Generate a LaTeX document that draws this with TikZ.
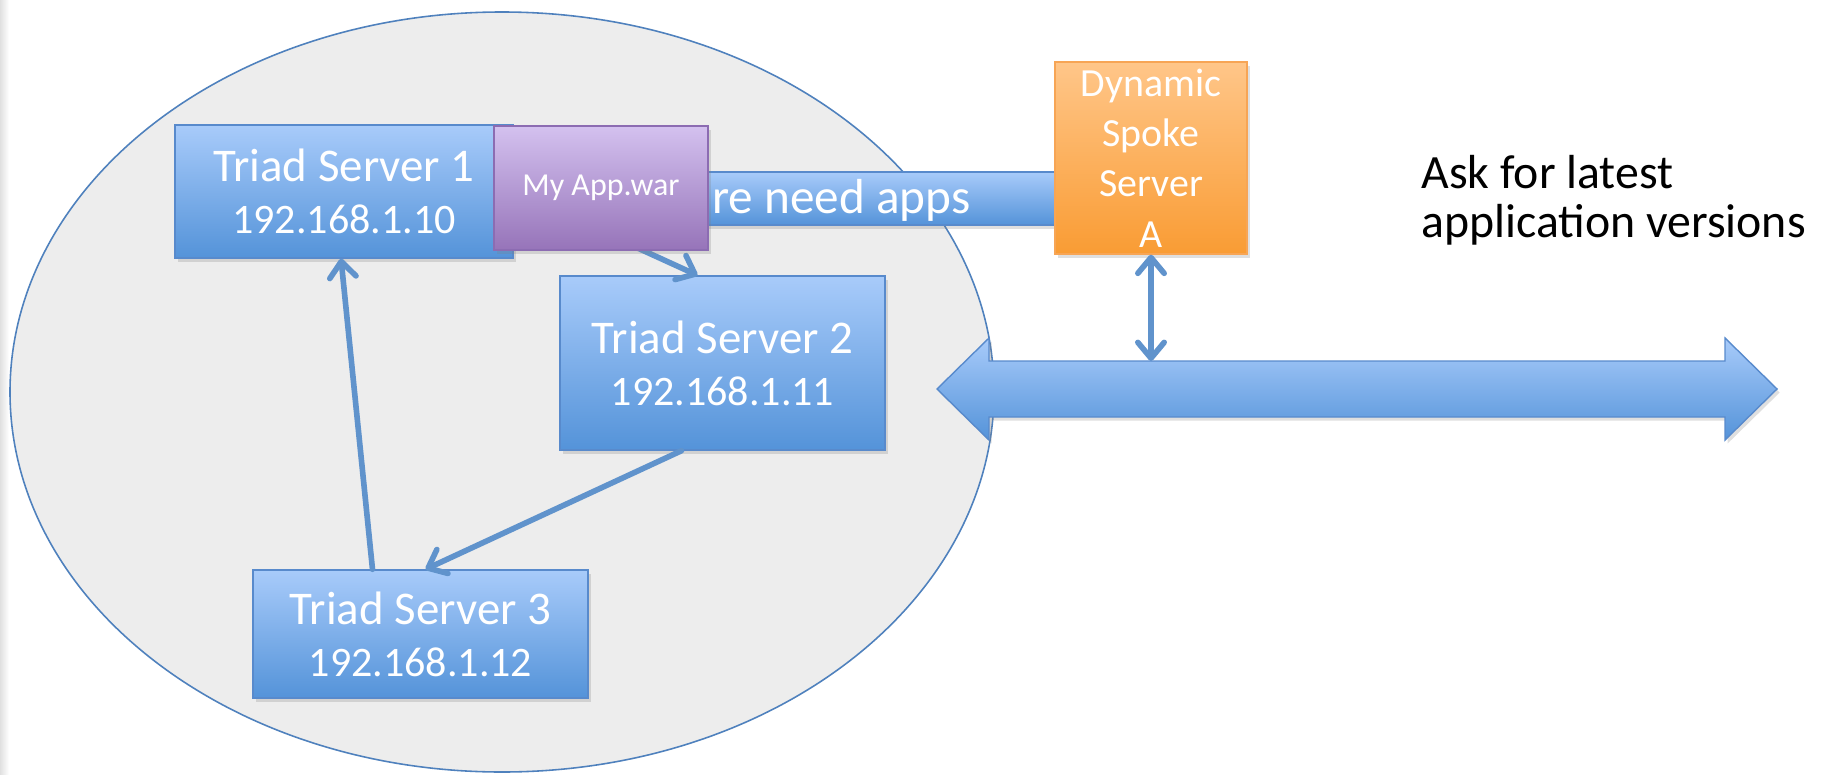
\documentclass[tikz,border=0pt]{standalone}
\usepackage{fontspec}
\setmainfont{Carlito}
\usetikzlibrary{arrows.meta,shadows}

\definecolor{boxtop}{RGB}{168,203,250}
\definecolor{boxbot}{RGB}{84,147,217}
\definecolor{boxline}{RGB}{88,138,204}
\definecolor{apptop}{RGB}{212,193,239}
\definecolor{appbot}{RGB}{150,116,185}
\definecolor{appline}{RGB}{140,108,178}
\definecolor{spoketop}{RGB}{255,198,137}
\definecolor{spokebot}{RGB}{249,156,52}
\definecolor{spokeline}{RGB}{247,165,85}
\definecolor{ringfill}{RGB}{237,237,237}
\definecolor{ringline}{RGB}{79,129,189}
\definecolor{linkblue}{RGB}{96,147,204}

\newcommand{\ipaddr}[1]{{\fontsize{23.9}{29.6}\selectfont #1}}

\begin{document}
\begin{tikzpicture}[x=0.02cm,y=-0.02cm]
 	\def \u{0.02cm}
 	\def \busy{389}
 	\tikzstyle{srv}=[draw=boxline,line width=0.8pt,top color=boxtop,bottom color=boxbot,text=white,align=center,inner sep=0pt,drop shadow={shadow xshift=1.5pt,shadow yshift=-2pt,opacity=0.25},font=\fontsize{26.7}{29.6}\selectfont]
 	\tikzstyle{app}=[srv,draw=appline,top color=apptop,bottom color=appbot,font=\fontsize{18.2}{22}\selectfont]
 	\tikzstyle{spk}=[srv,draw=spokeline,top color=spoketop,bottom color=spokebot,font=\fontsize{22.7}{28.6}\selectfont]
 	\tikzstyle{link}=[draw=linkblue,line width=3.2pt,line cap=round,-{Straight Barb[length=9pt,width=15pt,round]}]
 	\useasboundingbox (0,0) rectangle (1825,774);
 	\shade[left color=black!12,right color=white] (0,0) rectangle (9,774);
 	% triad cluster
 	\draw[ringline,fill=ringfill,line width=0.9pt] (502,392) ellipse [x radius=492,y radius=380];
 	\node[srv,minimum width=338*\u,minimum height=133*\u] (ts1) at (344,191.5) {Triad Server 1\\\ipaddr{192.168.1.10}};
 	\node[srv,minimum width=325*\u,minimum height=174*\u] (ts2) at (722.5,363) {Triad Server 2\\\ipaddr{192.168.1.11}};
 	\node[srv,minimum width=335*\u,minimum height=128*\u] (ts3) at (420.5,634) {Triad Server 3\\\ipaddr{192.168.1.12}};
 	% spoke and bus
 	\node[srv,minimum width=537*\u,minimum height=53*\u] (need) at (788.5,198.5) {};
 	\node[anchor=base west,inner sep=0pt,text=white,font=\fontsize{28}{30}\selectfont] (needtext) at (712,213) {re need apps};
 	\node[spk,minimum size=192*\u] (spoke) at (1151,158) {Dynamic\\Spoke\\Server\\A};
 	\shade[draw=boxline,line width=0.8pt,top color=boxtop,bottom color=boxbot,drop shadow={shadow xshift=1.5pt,shadow yshift=-2pt,opacity=0.25}]
 		(937,\busy) -- (989,338) -- (989,361) -- (1725,361) -- (1725,338) -- (1777,\busy)
 		-- (1725,440) -- (1725,417) -- (989,417) -- (989,440) -- cycle;
 	\coordinate (busin) at (1151,361);
 	\path (ts1.east)	edge[link]	([xshift=-25*\u]ts2.north)
 		([xshift=-48*\u]ts3.north)	edge[link]	([xshift=-3*\u]ts1.south)
 		([xshift=-41*\u]ts2.south)	edge[link]	([xshift=5*\u]ts3.north)
 		(spoke.south)	edge[link,{Straight Barb[length=9pt,width=15pt,round]}-{Straight Barb[length=9pt,width=15pt,round]}]	(busin);
 	\node[app,minimum width=214*\u,minimum height=124*\u] (app) at (601,188) {My App.war};
 	\node[anchor=north west,align=left,inner sep=0pt,font=\fontsize{27.2}{27.8}\selectfont] (ask) at (1421,155) {Ask for latest\\application versions};
\end{tikzpicture}
\end{document}
